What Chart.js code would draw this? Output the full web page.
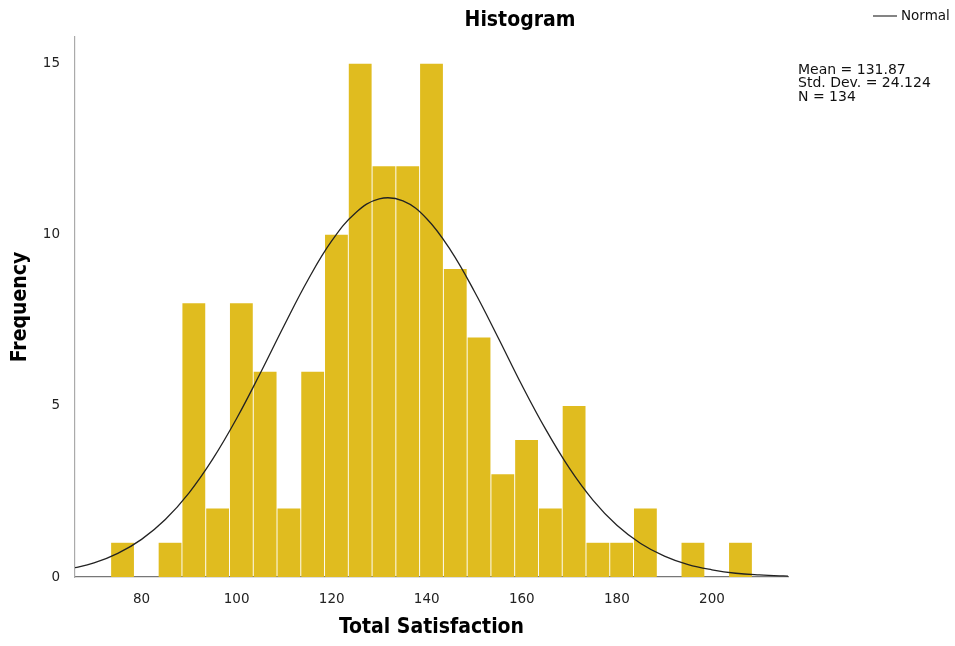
<!DOCTYPE html>
<html>
<head>
<meta charset="utf-8">
<script src="https://cdn.jsdelivr.net/npm/chart.js@4.4.1/dist/chart.umd.min.js"></script>
<style>
  html, body { margin: 0; padding: 0; background: #fff; }
  #wrap { width: 955px; height: 646px; }
</style>
</head>
<body>
<div id="wrap"><canvas id="hist-chart"></canvas></div>
<script>
// histogram bins (centre of each 5-point bin) and counts
const binCentres = [76, 81, 86, 91, 96, 101, 106, 111, 116, 121, 126, 131, 136, 141,
                    146, 151, 156, 161, 166, 171, 176, 181, 186, 191, 196, 201, 206];
const counts = [1, 0, 1, 8, 2, 8, 6, 2, 6, 10, 15, 12, 12, 15,
                9, 7, 3, 4, 2, 5, 1, 1, 2, 0, 1, 0, 1];

// normal curve
const curveX = [65, 70, 75, 80, 85, 90, 95, 100, 105, 110, 115, 120, 125, 130, 135, 140,
                145, 150, 155, 160, 165, 170, 175, 180, 185, 190, 195, 200, 205, 210, 215, 220];
const curveY = [0.24, 0.41, 0.69, 1.10, 1.68, 2.46, 3.45, 4.63, 5.96, 7.35, 8.68, 9.82, 10.64, 11.05, 10.99, 10.47,
                9.55, 8.35, 7.00, 5.61, 4.32, 3.18, 2.24, 1.51, 0.98, 0.61, 0.36, 0.21, 0.11, 0.06, 0.03, 0.01];

const xTicks = [80, 100, 120, 140, 160, 180, 200];
const yTicks = [0, 5, 10, 15];
const statLines = ["Mean = 131.87", "Std. Dev. = 24.124", "N = 134"];

const condensed = '"DejaVu Sans Condensed", "DejaVu Sans", sans-serif';
const plain = '"DejaVu Sans", sans-serif';

// title, legend and stats box
const extras = {
  id: 'extras',
  afterDraw(chart) {
    const ctx = chart.ctx;
    ctx.save();
    ctx.fillStyle = '#000';
    ctx.textAlign = 'center';
    ctx.textBaseline = 'alphabetic';
    ctx.font = 'bold 21px ' + condensed;
    ctx.fillText('Histogram', 520, 26);

    ctx.strokeStyle = '#333';
    ctx.lineWidth = 1.2;
    ctx.beginPath();
    ctx.moveTo(873, 16);
    ctx.lineTo(897, 16);
    ctx.stroke();

    ctx.textAlign = 'left';
    ctx.textBaseline = 'middle';
    ctx.fillStyle = '#111';
    ctx.font = '13.5px ' + plain;
    ctx.fillText('Normal', 901, 16);
    ctx.font = '14px ' + plain;
    statLines.forEach((s, i) => ctx.fillText(s, 798, 70 + i * 13.5));
    ctx.restore();
  }
};

new Chart(document.getElementById('hist-chart'), {
  data: {
    datasets: [
      {
        type: 'line',
        label: 'Normal',
        data: curveX.map((x, i) => ({ x: x, y: curveY[i] })),
        borderColor: '#222',
        borderWidth: 1.3,
        pointRadius: 0,
        tension: 0.4,
        fill: false,
        order: 0
      },
      {
        type: 'bar',
        label: 'Frequency',
        data: binCentres.map((x, i) => ({ x: x, y: counts[i] })),
        backgroundColor: '#e0bc1f',
        barPercentage: 0.96,
        categoryPercentage: 1,
        grouped: false,
        order: 1
      }
    ]
  },
  options: {
    responsive: true,
    maintainAspectRatio: false,
    animation: false,
    layout: { padding: { top: 37, right: 167, left: 0, bottom: 0 } },
    plugins: {
      legend: { display: false },
      tooltip: { enabled: false }
    },
    scales: {
      x: {
        type: 'linear',
        min: 66,
        max: 216,
        offset: false,
        grid: { display: false },
        border: { display: true, color: '#777', width: 1.2 },
        afterBuildTicks: s => { s.ticks = xTicks.map(v => ({ value: v })); },
        afterFit: s => { s.height = 69; },
        ticks: {
          padding: 6,
          color: '#222',
          maxRotation: 0,
          font: { family: plain, size: 13.5 }
        },
        title: {
          display: true,
          text: 'Total Satisfaction',
          color: '#000',
          padding: { top: 0, bottom: 6 },
          font: { family: condensed, size: 21, weight: 'bold' }
        }
      },
      y: {
        min: 0,
        max: 15.78,
        grid: { display: false },
        border: { display: true, color: '#aaa', width: 1.2 },
        afterBuildTicks: s => { s.ticks = yTicks.map(v => ({ value: v })); },
        afterFit: s => { s.width = 75; },
        ticks: {
          padding: 7,
          color: '#222',
          font: { family: plain, size: 13.5 }
        },
        title: {
          display: true,
          text: 'Frequency',
          color: '#000',
          padding: { top: 8, bottom: 0 },
          font: { family: condensed, size: 21, weight: 'bold' }
        }
      }
    }
  },
  plugins: [extras]
});
</script>
</body>
</html>
